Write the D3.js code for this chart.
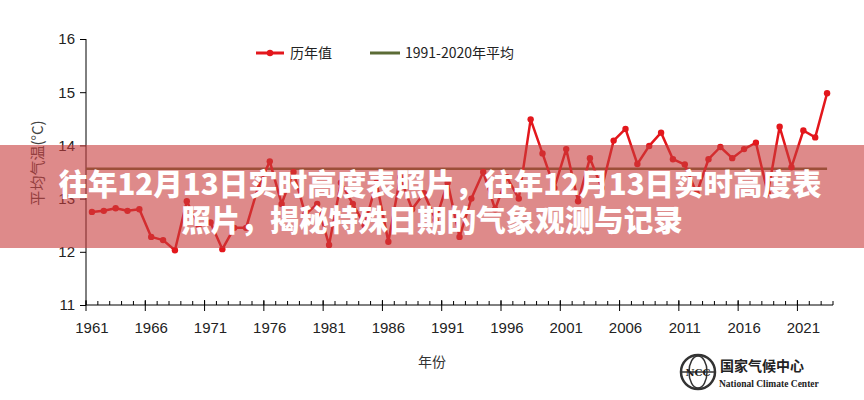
<!DOCTYPE html>
<html><head><meta charset="utf-8">
<script src="https://cdn.jsdelivr.net/npm/d3@7"></script>
<style>html,body{margin:0;padding:0;background:#fff;}svg{display:block;}</style>
</head><body><svg id="c" width="864" height="400"></svg>
<script>
const years = d3.range(1961, 2024);
const values = [12.75,12.77,12.82,12.77,12.80,12.28,12.22,12.03,12.95,12.50,
12.55,12.05,12.45,12.45,13.20,13.70,12.90,13.50,12.70,12.90,
12.13,13.30,12.90,12.50,13.30,12.19,13.40,12.80,13.10,12.60,
13.30,12.28,13.00,13.50,12.80,13.40,13.00,14.49,13.85,13.20,
13.93,12.95,13.76,13.20,14.09,14.31,13.65,13.99,14.24,13.74,
13.64,13.10,13.74,13.97,13.76,13.93,14.05,13.10,14.35,13.59,
14.28,14.15,14.98];
const normalValue = [13.56];
const yTicks = [11,12,13,14,15,16];
const xLabelYears = [1961,1966,1971,1976,1981,1986,1991,1996,2001,2006,2011,2016,2021];
const seriesNames = ["历年值","1991-2020年平均"];
const titleLines = ["往年12月13日实时高度表照片，往年12月13日实时高度表","照片，揭秘特殊日期的气象观测与记录"];

const svg = d3.select("#c");
const font = "'Liberation Sans', Arial, sans-serif";
const cjk = "'Noto Sans CJK SC', sans-serif";
const x = d3.scaleBand().domain(years).range([86, 833]).padding(0);
const y = d3.scaleLinear().domain([11, 16]).range([305, 39]);
const cx = d => x(d) + x.bandwidth()/2;

// y axis
const yAxis = d3.axisLeft(y).tickValues(yTicks).tickSize(6).tickPadding(5).tickFormat(d3.format("d"));
const gy = svg.append("g").attr("transform","translate(86,0)").call(yAxis);
gy.select(".domain").attr("stroke","#000").attr("d","M0,39V305");
gy.selectAll("text").attr("font-family",font).attr("font-size",15).attr("fill","#222");

// x axis: minor ticks (inside), major ticks crossing
const gx = svg.append("g").attr("transform","translate(0,305)");
gx.append("line").attr("x1",86).attr("x2",833).attr("stroke","#000");
const bounds = years.map(d=>x(d)).concat([x(2023)+x.bandwidth()]);
gx.selectAll("line.minor").data(bounds).join("line").attr("class","minor")
  .attr("x1",d=>d).attr("x2",d=>d).attr("y1",-4).attr("y2",0).attr("stroke","#000");
gx.selectAll("line.major").data(xLabelYears).join("line").attr("class","major")
  .attr("x1",d=>x(d)).attr("x2",d=>x(d)).attr("y1",-5).attr("y2",6).attr("stroke","#000");
gx.selectAll("text").data(xLabelYears).join("text")
  .attr("x",d=>cx(d)).attr("y",28).attr("text-anchor","middle")
  .attr("font-family",font).attr("font-size",15).attr("fill","#222").text(d=>d);

// axis titles
svg.append("text").attr("x",432).attr("y",367).attr("text-anchor","middle")
  .attr("font-family",cjk).attr("font-size",14).attr("fill","#333").text("年份");
svg.append("text").attr("transform","translate(43,163) rotate(-90)").attr("text-anchor","middle")
  .attr("font-family",cjk).attr("font-size",15).attr("fill","#444").text("平均气温(°C)");

// normal line
svg.append("line").attr("x1",86).attr("x2",cx(2023))
  .attr("y1",y(normalValue[0])).attr("y2",y(normalValue[0]))
  .attr("stroke","#5b6b36").attr("stroke-width",2.5);

// data line
const red = "#e3171c";
svg.append("path").datum(years.map((d,i)=>[d,values[i]]))
  .attr("fill","none").attr("stroke",red).attr("stroke-width",2.5).attr("stroke-linejoin","round")
  .attr("d", d3.line().x(d=>cx(d[0])).y(d=>y(d[1])));
svg.selectAll("circle.pt").data(years.map((d,i)=>[d,values[i]])).join("circle").attr("class","pt")
  .attr("cx",d=>cx(d[0])).attr("cy",d=>y(d[1])).attr("r",3.2).attr("fill",red);

// legend
const lg = svg.append("g");
lg.append("line").attr("x1",256).attr("x2",284).attr("y1",53).attr("y2",53).attr("stroke",red).attr("stroke-width",3);
lg.append("circle").attr("cx",270).attr("cy",53).attr("r",3.2).attr("fill",red);
lg.append("text").attr("x",290).attr("y",58).attr("font-family",cjk).attr("font-size",14).attr("fill","#222").text(seriesNames[0]);
lg.append("line").attr("x1",370).attr("x2",400).attr("y1",53).attr("y2",53).attr("stroke","#5b6b36").attr("stroke-width",3);
lg.append("text").attr("x",405).attr("y",58).attr("font-family",cjk).attr("font-size",14).attr("fill","#222").text(seriesNames[1]);

// logo
const logo = svg.append("g").attr("transform","translate(698,372)");
logo.append("circle").attr("r",17).attr("fill","none").attr("stroke","#333").attr("stroke-width",2.5);
logo.append("ellipse").attr("rx",9).attr("ry",16).attr("fill","none").attr("stroke","#333").attr("stroke-width",1.5);
logo.append("line").attr("x1",-16).attr("x2",16).attr("stroke","#333").attr("stroke-width",1.5);
logo.append("text").attr("x",0).attr("y",4).attr("text-anchor","middle").attr("font-family","'DejaVu Serif',serif")
  .attr("font-size",10).attr("font-weight","bold").attr("fill","#222").text("NCC");
svg.append("text").attr("x",720).attr("y",371).attr("font-family",cjk).attr("font-weight","bold")
  .attr("font-size",14).attr("fill","#222").text("国家气候中心");
svg.append("text").attr("x",719).attr("y",387).attr("font-family","'Liberation Serif',serif").attr("font-weight","bold")
  .attr("font-size",9.5).attr("fill","#222").text("National Climate Center");

// banner overlay
svg.append("rect").attr("x",0).attr("y",145).attr("width",864).attr("height",103)
  .attr("fill","rgb(200,60,60)").attr("fill-opacity",0.6);
svg.selectAll("text.title").data(titleLines).join("text").attr("class","title")
  .attr("x",(d,i)=>i===0?440:432).attr("y",(d,i)=>195+i*36).attr("text-anchor","middle")
  .attr("font-family",cjk).attr("font-weight",900).attr("font-size",29.5).attr("fill","#fff").text(d=>d);
</script></body></html>
